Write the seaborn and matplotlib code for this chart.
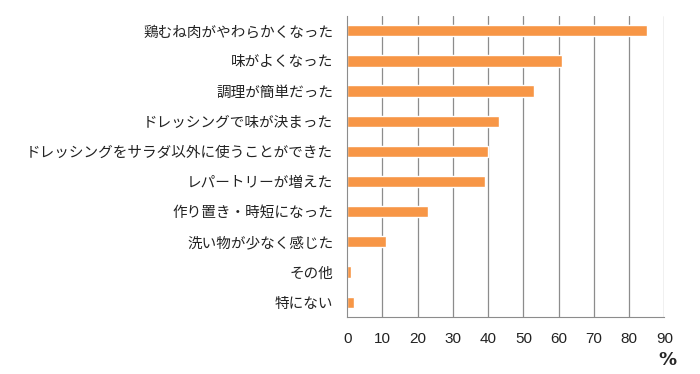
import numpy as np
import pandas as pd
import matplotlib
matplotlib.use("Agg")
import matplotlib.pyplot as plt
import seaborn as sns

# data
labels = [
    "鶏むね肉がやわらかくなった",
    "味がよくなった",
    "調理が簡単だった",
    "ドレッシングで味が決まった",
    "ドレッシングをサラダ以外に使うことができた",
    "レパートリーが増えた",
    "作り置き・時短になった",
    "洗い物が少なく感じた",
    "その他",
    "特にない",
]
values = [85, 61, 53, 43, 40, 39, 23, 11, 1, 2]
x_ticks = list(range(0, 100, 10))

df = pd.DataFrame({"label": labels, "pct": values})

sns.set_style("white")
plt.rcParams["font.family"] = ["Noto Sans CJK JP", "DejaVu Sans"]

fig = plt.figure(figsize=(7, 3.74), dpi=100)
ax = fig.add_axes([0.496, 0.152, 0.453, 0.806])

sns.barplot(data=df, x="pct", y="label", color="#F79646", saturation=1,
            width=0.37, ax=ax, zorder=3)

ax.set_xlim(0, 90)
ax.set_ylim(len(labels) - 0.5, -0.5)
ax.set_xticks(x_ticks)
ax.set_xlabel("")
ax.set_ylabel("")

# vertical gridlines
for x in x_ticks[1:]:
    ax.axvline(x, color="#8c8c8c", lw=0.9, zorder=1)

for side in ["top", "right"]:
    ax.spines[side].set_visible(False)
ax.spines["left"].set_color("#8c8c8c")
ax.spines["bottom"].set_color("#8c8c8c")
ax.spines["left"].set_zorder(4)

# ticks between categories on the y axis
ax.set_yticks(np.arange(-0.5, len(labels), 1), minor=True)
ax.tick_params(axis="y", which="major", length=0, labelsize=10.5, pad=10,
               colors="#222222")
ax.tick_params(axis="y", which="minor", length=5, color="#8c8c8c",
               direction="out")
ax.tick_params(axis="x", length=5, labelsize=11, pad=6, colors="#222222")
ax.xaxis.set_tick_params(color="#8c8c8c")
for t in ax.get_xticklabels():
    t.set_family(["Liberation Sans", "DejaVu Sans"])

fig.text(0.953, 0.014, "%", fontsize=13, fontweight="bold", ha="center",
         va="bottom", family=["DejaVu Sans"])

fig.savefig("out.png", dpi=100)
